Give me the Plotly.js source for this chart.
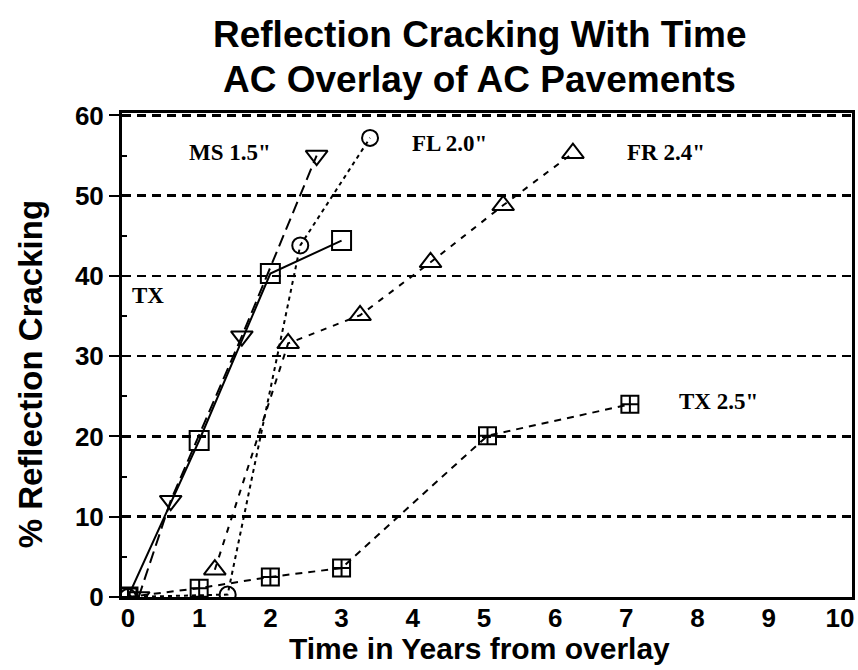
<!DOCTYPE html>
<html>
<head>
<meta charset="utf-8">
<script src="https://cdn.plot.ly/plotly-3.0.1.min.js"></script>
<style>
  html, body { margin: 0; padding: 0; background: #ffffff; }
  #chart { width: 858px; height: 670px; }
</style>
</head>
<body>
<div id="chart"></div>
<script>
// ---- Data ----
const timeMS   = [0.15, 0.6, 1.6, 2.65];
const crackMS  = [0, 12, 32.5, 55];

const timeTX   = [0, 1, 2, 3];
const crackTX  = [0, 19.5, 40.3, 44.4];

const timeFL   = [0, 1.4, 2.42, 3.4];
const crackFL  = [0, 0.3, 43.8, 57.2];

const timeFR   = [1.22, 2.25, 3.26, 4.25, 5.27, 6.25];
const crackFR  = [3.4, 31.6, 35.1, 41.7, 48.8, 55.3];

const timeTX25  = [0, 1, 2, 3, 5.05, 7.05];
const crackTX25 = [0, 1.1, 2.5, 3.6, 20.1, 24.0];

const xTicks = [0, 1, 2, 3, 4, 5, 6, 7, 8, 9, 10];
const yTicks = [0, 10, 20, 30, 40, 50, 60];

const seriesLabels = ['MS 1.5"', 'FL 2.0"', 'FR 2.4"', 'TX 2.5"', 'TX'];
const labelX = [0.83, 3.96, 6.98, 7.71, 0.03];
const labelY = [55.4, 56.5, 55.4, 24.3, 37.6];

const chartTitle1 = 'Reflection Cracking With Time';
const chartTitle2 = 'AC Overlay of AC Pavements';
const xTitle = 'Time in Years from overlay';
const yTitle = '% Reflection Cracking';

// ---- Styling ----
const sansBold = '"Liberation Sans", Arial, Helvetica, sans-serif';
const serif = '"Liberation Serif", "Times New Roman", serif';

function mk(x, y, symbol, size, dash, name) {
  return {
    x: x, y: y, name: name, type: 'scatter', mode: 'lines+markers',
    line: { color: '#000', width: 2, dash: dash },
    marker: { symbol: symbol, size: size, color: '#000', line: { color: '#000', width: 2 } },
    showlegend: false, hoverinfo: 'x+y'
  };
}

const traces = [
  mk(timeTX, crackTX, 'square-open', 19, 'solid', 'TX'),
  mk(timeMS, crackMS, 'triangle-down-open', 19, '12px,6px', 'MS 1.5"'),
  mk(timeFL, crackFL, 'circle-open', 16, '4px,4px', 'FL 2.0"'),
  mk(timeFR, crackFR, 'triangle-up-open', 19, '6px,7px', 'FR 2.4"'),
  mk(timeTX25, crackTX25, 'square-cross-open', 17, '7px,6px', 'TX 2.5"')
];

const annotations = seriesLabels.map((t, i) => ({
  x: labelX[i], y: labelY[i], xref: 'x', yref: 'y',
  text: '<b>' + t + '</b>', showarrow: false, xanchor: 'left', yanchor: 'middle',
  font: { family: serif, size: 23, color: '#000' }
}));

annotations.push(
  { text: '<b>' + chartTitle1 + '</b>', xref: 'paper', yref: 'paper', x: 0.49, y: 1, yshift: 79,
    showarrow: false, xanchor: 'center', yanchor: 'middle', font: { family: sansBold, size: 37, color: '#000' } },
  { text: '<b>' + chartTitle2 + '</b>', xref: 'paper', yref: 'paper', x: 0.49, y: 1, yshift: 34,
    showarrow: false, xanchor: 'center', yanchor: 'middle', font: { family: sansBold, size: 37, color: '#000' } },
  { text: '<b>' + xTitle + '</b>', xref: 'paper', yref: 'paper', x: 0.49, y: 0, yshift: -51,
    showarrow: false, xanchor: 'center', yanchor: 'middle', font: { family: sansBold, size: 30, color: '#000' } },
  { text: '<b>' + yTitle + '</b>', xref: 'paper', yref: 'paper', x: 0, xshift: -92, y: 0.46,
    showarrow: false, xanchor: 'center', yanchor: 'middle', textangle: -90, font: { family: sansBold, size: 33, color: '#000' } }
);

const layout = {
  width: 858, height: 670,
  margin: { l: 122, r: 6, t: 113, b: 73, pad: 0 },
  paper_bgcolor: '#fff', plot_bgcolor: '#fff',
  showlegend: false,
  xaxis: {
    range: [-0.084, 10.17], tickvals: xTicks, ticktext: xTicks.map(String),
    showgrid: false, zeroline: false, showline: true, linecolor: '#000', linewidth: 3, mirror: true,
    ticks: '', ticklabelstandoff: -4,
    tickfont: { family: sansBold, size: 26, color: '#000', weight: 'bold' }
  },
  yaxis: {
    range: [0, 60.3], tickvals: yTicks, ticktext: yTicks.map(String),
    showgrid: true, gridcolor: '#000', gridwidth: 2.5, griddash: '9px,6px',
    zeroline: false, showline: true, linecolor: '#000', linewidth: 3, mirror: true,
    ticks: 'outside', ticklen: 10, tickwidth: 2, tickcolor: '#000',
    minor: { tickvals: [5, 15, 25, 35, 45, 55], ticks: 'inside', ticklen: 5, tickwidth: 2, tickcolor: '#000', showgrid: false },
    tickfont: { family: sansBold, size: 26, color: '#000', weight: 'bold' }
  },
  annotations: annotations
};

Plotly.newPlot('chart', traces, layout, { displayModeBar: false, staticPlot: true });
</script>
</body>
</html>
